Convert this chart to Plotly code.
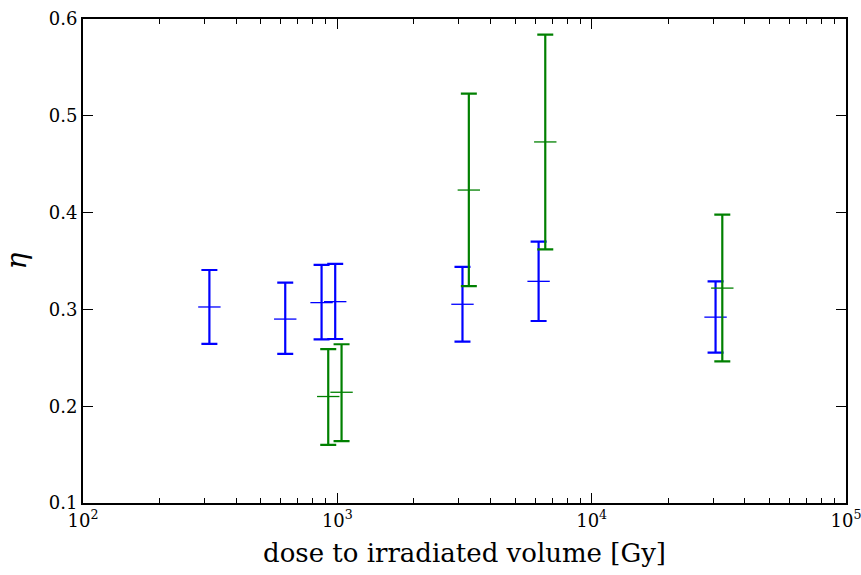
import plotly.graph_objects as go

# Blue series
blue_x = [314, 624, 867, 981, 3105, 6185, 30700]
blue_y = [0.3025, 0.290, 0.307, 0.308, 0.3053, 0.329, 0.292]
blue_lo = [0.2643, 0.254, 0.269, 0.2694, 0.2667, 0.288, 0.2553]
blue_hi = [0.3407, 0.3276, 0.346, 0.347, 0.344, 0.370, 0.329]

# Green series
green_x = [921, 1039, 3289, 6570, 32630]
green_y = [0.210, 0.2144, 0.4233, 0.473, 0.322]
green_lo = [0.160, 0.164, 0.324, 0.362, 0.2464]
green_hi = [0.259, 0.264, 0.523, 0.5838, 0.398]

x_ticks = [100, 1000, 10000, 100000]
x_ticktext = ["10<sup>2</sup>", "10<sup>3</sup>", "10<sup>4</sup>", "10<sup>5</sup>"]
y_ticks = [0.1, 0.2, 0.3, 0.4, 0.5, 0.6]
y_ticktext = ["0.1", "0.2", "0.3", "0.4", "0.5", "0.6"]

minor_vals = [m * 10 ** e for e in range(2, 5) for m in range(2, 10)]

FONT = "DejaVu Serif"

fig = go.Figure()


def add_series(xs, ys, lo, hi, color):
    fig.add_trace(go.Scatter(
        x=xs, y=ys, mode="markers",
        marker=dict(symbol="line-ew", size=16, color=color,
                    line=dict(color=color, width=1.3)),
        error_y=dict(type="data", symmetric=False,
                     array=[h - c for h, c in zip(hi, ys)],
                     arrayminus=[c - l for c, l in zip(ys, lo)],
                     color=color, thickness=2.2, width=8),
        showlegend=False,
    ))


add_series(blue_x, blue_y, blue_lo, blue_hi, "#0000ff")
add_series(green_x, green_y, green_lo, green_hi, "#008000")

fig.update_layout(
    width=861, height=575,
    margin=dict(l=83, r=15, t=19, b=72, autoexpand=False),
    plot_bgcolor="white", paper_bgcolor="white",
    font=dict(family=FONT, size=18, color="black"),
)
fig.update_xaxes(
    type="log", range=[2, 5], tickmode="array", tickvals=x_ticks,
    ticktext=x_ticktext, tickfont=dict(family=FONT, size=18, color="black"),
    ticklabeloverflow="allow",
    ticks="inside", ticklen=10, tickwidth=1.3, tickcolor="black",
    showline=True, linewidth=2, linecolor="black", mirror="allticks",
    showgrid=False, zeroline=False, automargin=False,
    minor=dict(tickvals=minor_vals, ticks="inside", ticklen=5,
               tickwidth=1.2, tickcolor="black", showgrid=False),
    title_text="dose to irradiated volume [Gy]", title_font=dict(family=FONT, size=26),
    title_standoff=14,
)
fig.update_yaxes(
    range=[0.1, 0.6], tickmode="array", tickvals=y_ticks,
    ticktext=y_ticktext, tickfont=dict(family=FONT, size=18, color="black"),
    ticklabeloverflow="allow",
    ticks="inside", ticklen=10, tickwidth=1.3, tickcolor="black",
    showline=True, linewidth=2, linecolor="black", mirror="allticks",
    showgrid=False, zeroline=False, automargin=False,
    title_text="<i>η</i>", title_font=dict(family=FONT, size=28), title_standoff=16,
)

fig.write_html("out.html")
